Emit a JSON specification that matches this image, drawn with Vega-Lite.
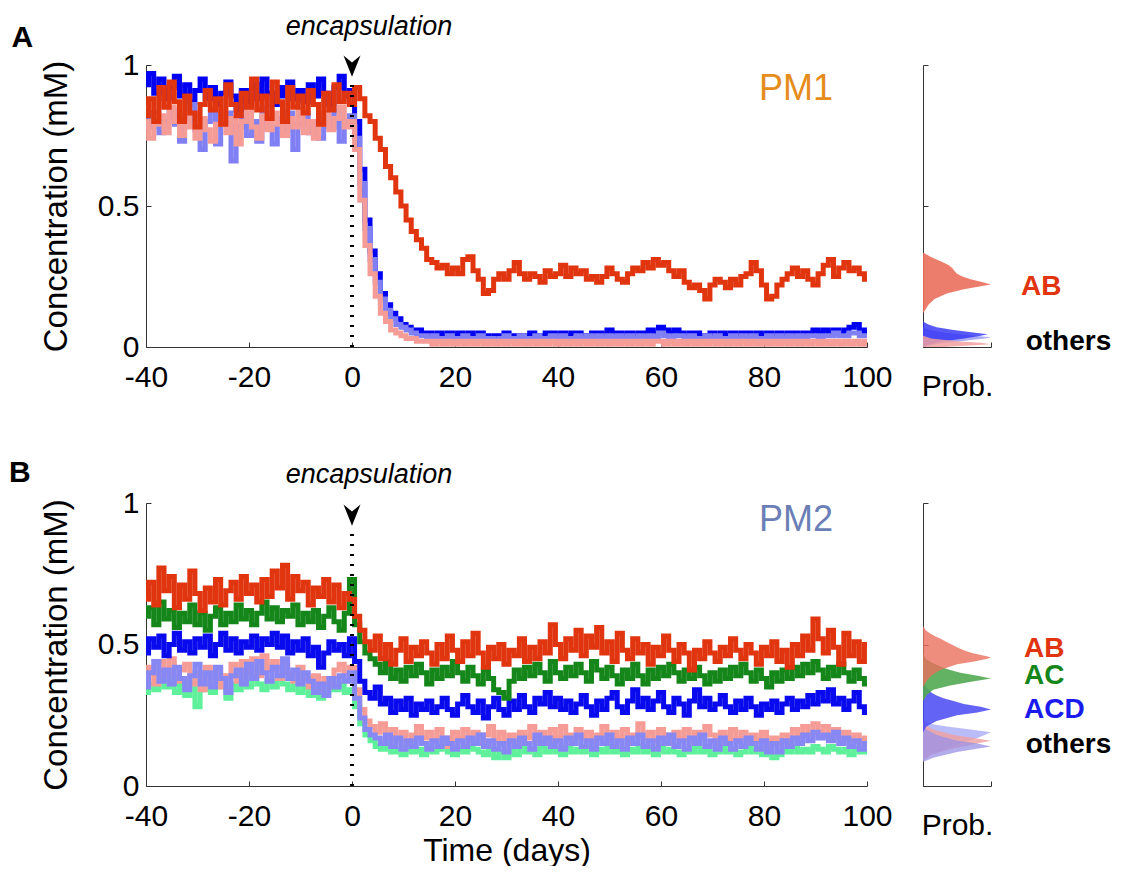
{
  "$schema": "https://vega.github.io/schema/vega-lite/v6.json",
  "padding": {"left": 8, "top": 12, "right": 5, "bottom": 0},
  "background": "white",
  "config": {
    "view": {"stroke": null},
    "font": "Liberation Sans",
    "axis": {"labelFont": "Liberation Sans", "labelFontSize": 30, "labelColor": "#000", "titleFont": "Liberation Sans", "titleFontSize": 32, "titleFontWeight": "normal", "titleColor": "#000", "domainColor": "#333", "tickColor": "#333", "grid": false, "tickSize": -5, "labelPadding": 12, "labelFlush": false, "labelOverlap": false},
    "axisX": {"labelPadding": 20}
  },
  "datasets": {
    "A": [
      {"t":-40,"AB":0.82,"b":0.93,"lb":0.85,"pk":0.80},{"t":-39,"AB":0.88,"b":0.97,"lb":0.78,"pk":0.74},{"t":-38,"AB":0.80,"b":0.90,"lb":0.83,"pk":0.79},{"t":-37,"AB":0.92,"b":0.95,"lb":0.76,"pk":0.82},{"t":-36,"AB":0.85,"b":0.88,"lb":0.80,"pk":0.76},{"t":-35,"AB":0.94,"b":0.92,"lb":0.84,"pk":0.85},{"t":-34,"AB":0.87,"b":0.96,"lb":0.79,"pk":0.80},{"t":-33,"AB":0.80,"b":0.89,"lb":0.73,"pk":0.75},{"t":-32,"AB":0.89,"b":0.93,"lb":0.81,"pk":0.83},{"t":-31,"AB":0.83,"b":0.87,"lb":0.86,"pk":0.78},
      {"t":-30,"AB":0.78,"b":0.91,"lb":0.77,"pk":0.74},{"t":-29,"AB":0.86,"b":0.95,"lb":0.70,"pk":0.81},{"t":-28,"AB":0.91,"b":0.88,"lb":0.80,"pk":0.77},{"t":-27,"AB":0.84,"b":0.92,"lb":0.84,"pk":0.73},{"t":-26,"AB":0.88,"b":0.86,"lb":0.72,"pk":0.79},{"t":-25,"AB":0.79,"b":0.90,"lb":0.79,"pk":0.84},{"t":-24,"AB":0.93,"b":0.94,"lb":0.83,"pk":0.76},{"t":-23,"AB":0.86,"b":0.89,"lb":0.66,"pk":0.81},{"t":-22,"AB":0.82,"b":0.84,"lb":0.78,"pk":0.72},{"t":-21,"AB":0.90,"b":0.91,"lb":0.82,"pk":0.80},
      {"t":-20,"AB":0.85,"b":0.87,"lb":0.75,"pk":0.85},{"t":-19,"AB":0.95,"b":0.93,"lb":0.80,"pk":0.78},{"t":-18,"AB":0.84,"b":0.88,"lb":0.73,"pk":0.74},{"t":-17,"AB":0.89,"b":0.95,"lb":0.85,"pk":0.82},{"t":-16,"AB":0.81,"b":0.90,"lb":0.78,"pk":0.77},{"t":-15,"AB":0.94,"b":0.86,"lb":0.72,"pk":0.83},{"t":-14,"AB":0.87,"b":0.92,"lb":0.81,"pk":0.79},{"t":-13,"AB":0.80,"b":0.89,"lb":0.77,"pk":0.75},{"t":-12,"AB":0.92,"b":0.94,"lb":0.83,"pk":0.81},{"t":-11,"AB":0.85,"b":0.88,"lb":0.70,"pk":0.78},
      {"t":-10,"AB":0.89,"b":0.91,"lb":0.79,"pk":0.84},{"t":-9,"AB":0.83,"b":0.87,"lb":0.82,"pk":0.76},{"t":-8,"AB":0.91,"b":0.93,"lb":0.76,"pk":0.80},{"t":-7,"AB":0.86,"b":0.89,"lb":0.80,"pk":0.74},{"t":-6,"AB":0.79,"b":0.95,"lb":0.74,"pk":0.79},{"t":-5,"AB":0.90,"b":0.90,"lb":0.82,"pk":0.83},{"t":-4,"AB":0.84,"b":0.86,"lb":0.78,"pk":0.77},{"t":-3,"AB":0.93,"b":0.92,"lb":0.84,"pk":0.81},{"t":-2,"AB":0.87,"b":0.96,"lb":0.73,"pk":0.85},{"t":-1,"AB":0.90,"b":0.89,"lb":0.80,"pk":0.78},
      {"t":0,"AB":0.86,"b":0.91,"lb":0.82,"pk":0.80},{"t":1,"AB":0.92,"b":0.80,"lb":0.74,"pk":0.70},{"t":2,"AB":0.88,"b":0.63,"lb":0.58,"pk":0.52},{"t":3,"AB":0.82,"b":0.45,"lb":0.42,"pk":0.36},{"t":4,"AB":0.80,"b":0.34,"lb":0.31,"pk":0.26},{"t":5,"AB":0.74,"b":0.26,"lb":0.23,"pk":0.18},{"t":6,"AB":0.70,"b":0.19,"lb":0.17,"pk":0.12},{"t":7,"AB":0.64,"b":0.15,"lb":0.13,"pk":0.09},{"t":8,"AB":0.60,"b":0.12,"lb":0.10,"pk":0.06},{"t":9,"AB":0.55,"b":0.10,"lb":0.08,"pk":0.05},
      {"t":10,"AB":0.50,"b":0.08,"lb":0.07,"pk":0.04},{"t":11,"AB":0.45,"b":0.07,"lb":0.06,"pk":0.03},{"t":12,"AB":0.41,"b":0.06,"lb":0.05,"pk":0.03},{"t":13,"AB":0.38,"b":0.06,"lb":0.04,"pk":0.02},{"t":14,"AB":0.35,"b":0.05,"lb":0.04,"pk":0.02},{"t":15,"AB":0.31,"b":0.05,"lb":0.03,"pk":0.02},{"t":16,"AB":0.30,"b":0.04,"lb":0.04,"pk":0.01},{"t":17,"AB":0.28,"b":0.05,"lb":0.03,"pk":0.02},{"t":18,"AB":0.29,"b":0.04,"lb":0.03,"pk":0.01},{"t":19,"AB":0.26,"b":0.05,"lb":0.04,"pk":0.02},
      {"t":20,"AB":0.28,"b":0.04,"lb":0.03,"pk":0.01},{"t":21,"AB":0.26,"b":0.05,"lb":0.03,"pk":0.02},{"t":22,"AB":0.31,"b":0.04,"lb":0.04,"pk":0.01},{"t":23,"AB":0.32,"b":0.05,"lb":0.03,"pk":0.02},{"t":24,"AB":0.27,"b":0.04,"lb":0.03,"pk":0.01},{"t":25,"AB":0.24,"b":0.05,"lb":0.04,"pk":0.02},{"t":26,"AB":0.19,"b":0.04,"lb":0.03,"pk":0.01},{"t":27,"AB":0.20,"b":0.03,"lb":0.03,"pk":0.02},{"t":28,"AB":0.24,"b":0.04,"lb":0.02,"pk":0.01},{"t":29,"AB":0.26,"b":0.04,"lb":0.03,"pk":0.02},
      {"t":30,"AB":0.24,"b":0.05,"lb":0.04,"pk":0.01},{"t":31,"AB":0.27,"b":0.04,"lb":0.03,"pk":0.02},{"t":32,"AB":0.30,"b":0.03,"lb":0.03,"pk":0.01},{"t":33,"AB":0.26,"b":0.04,"lb":0.04,"pk":0.02},{"t":34,"AB":0.24,"b":0.04,"lb":0.03,"pk":0.01},{"t":35,"AB":0.26,"b":0.05,"lb":0.03,"pk":0.02},{"t":36,"AB":0.25,"b":0.04,"lb":0.04,"pk":0.01},{"t":37,"AB":0.23,"b":0.04,"lb":0.03,"pk":0.02},{"t":38,"AB":0.27,"b":0.05,"lb":0.03,"pk":0.01},{"t":39,"AB":0.25,"b":0.05,"lb":0.04,"pk":0.02},
      {"t":40,"AB":0.26,"b":0.04,"lb":0.03,"pk":0.01},{"t":41,"AB":0.29,"b":0.05,"lb":0.04,"pk":0.02},{"t":42,"AB":0.25,"b":0.04,"lb":0.03,"pk":0.01},{"t":43,"AB":0.28,"b":0.05,"lb":0.03,"pk":0.02},{"t":44,"AB":0.26,"b":0.05,"lb":0.04,"pk":0.01},{"t":45,"AB":0.27,"b":0.04,"lb":0.03,"pk":0.02},{"t":46,"AB":0.24,"b":0.04,"lb":0.04,"pk":0.01},{"t":47,"AB":0.25,"b":0.05,"lb":0.03,"pk":0.02},{"t":48,"AB":0.23,"b":0.05,"lb":0.04,"pk":0.01},{"t":49,"AB":0.25,"b":0.04,"lb":0.03,"pk":0.02},
      {"t":50,"AB":0.28,"b":0.06,"lb":0.04,"pk":0.01},{"t":51,"AB":0.26,"b":0.05,"lb":0.03,"pk":0.02},{"t":52,"AB":0.24,"b":0.05,"lb":0.04,"pk":0.01},{"t":53,"AB":0.23,"b":0.04,"lb":0.03,"pk":0.02},{"t":54,"AB":0.26,"b":0.05,"lb":0.04,"pk":0.01},{"t":55,"AB":0.28,"b":0.04,"lb":0.03,"pk":0.02},{"t":56,"AB":0.27,"b":0.05,"lb":0.04,"pk":0.01},{"t":57,"AB":0.30,"b":0.05,"lb":0.03,"pk":0.02},{"t":58,"AB":0.28,"b":0.06,"lb":0.04,"pk":0.01},{"t":59,"AB":0.31,"b":0.05,"lb":0.03,"pk":0.02},
      {"t":60,"AB":0.29,"b":0.07,"lb":0.05,"pk":0.02},{"t":61,"AB":0.30,"b":0.06,"lb":0.04,"pk":0.01},{"t":62,"AB":0.27,"b":0.05,"lb":0.03,"pk":0.02},{"t":63,"AB":0.25,"b":0.06,"lb":0.04,"pk":0.01},{"t":64,"AB":0.27,"b":0.05,"lb":0.04,"pk":0.02},{"t":65,"AB":0.23,"b":0.04,"lb":0.03,"pk":0.01},{"t":66,"AB":0.21,"b":0.05,"lb":0.04,"pk":0.02},{"t":67,"AB":0.22,"b":0.05,"lb":0.03,"pk":0.01},{"t":68,"AB":0.20,"b":0.04,"lb":0.03,"pk":0.02},{"t":69,"AB":0.17,"b":0.04,"lb":0.04,"pk":0.01},
      {"t":70,"AB":0.22,"b":0.05,"lb":0.03,"pk":0.02},{"t":71,"AB":0.24,"b":0.04,"lb":0.04,"pk":0.01},{"t":72,"AB":0.23,"b":0.05,"lb":0.03,"pk":0.02},{"t":73,"AB":0.21,"b":0.04,"lb":0.03,"pk":0.01},{"t":74,"AB":0.24,"b":0.05,"lb":0.04,"pk":0.02},{"t":75,"AB":0.22,"b":0.04,"lb":0.03,"pk":0.01},{"t":76,"AB":0.25,"b":0.05,"lb":0.04,"pk":0.02},{"t":77,"AB":0.26,"b":0.05,"lb":0.03,"pk":0.01},{"t":78,"AB":0.30,"b":0.04,"lb":0.04,"pk":0.02},{"t":79,"AB":0.27,"b":0.05,"lb":0.03,"pk":0.01},
      {"t":80,"AB":0.22,"b":0.04,"lb":0.03,"pk":0.02},{"t":81,"AB":0.17,"b":0.05,"lb":0.04,"pk":0.01},{"t":82,"AB":0.18,"b":0.04,"lb":0.03,"pk":0.02},{"t":83,"AB":0.22,"b":0.05,"lb":0.04,"pk":0.01},{"t":84,"AB":0.24,"b":0.04,"lb":0.03,"pk":0.02},{"t":85,"AB":0.26,"b":0.05,"lb":0.04,"pk":0.01},{"t":86,"AB":0.28,"b":0.05,"lb":0.03,"pk":0.02},{"t":87,"AB":0.25,"b":0.04,"lb":0.04,"pk":0.01},{"t":88,"AB":0.27,"b":0.05,"lb":0.03,"pk":0.02},{"t":89,"AB":0.24,"b":0.05,"lb":0.04,"pk":0.01},
      {"t":90,"AB":0.22,"b":0.06,"lb":0.04,"pk":0.02},{"t":91,"AB":0.26,"b":0.05,"lb":0.03,"pk":0.01},{"t":92,"AB":0.29,"b":0.06,"lb":0.04,"pk":0.02},{"t":93,"AB":0.31,"b":0.05,"lb":0.04,"pk":0.01},{"t":94,"AB":0.25,"b":0.06,"lb":0.05,"pk":0.02},{"t":95,"AB":0.28,"b":0.05,"lb":0.04,"pk":0.01},{"t":96,"AB":0.30,"b":0.06,"lb":0.04,"pk":0.02},{"t":97,"AB":0.27,"b":0.07,"lb":0.05,"pk":0.01},{"t":98,"AB":0.28,"b":0.08,"lb":0.05,"pk":0.02},{"t":99,"AB":0.26,"b":0.06,"lb":0.04,"pk":0.01},
      {"t":100,"AB":0.24,"b":0.05,"lb":0.04,"pk":0.02}
    ],
    "B": [
      {"t":-40,"AB":0.66,"AC":0.60,"ACD":0.47,"pk":0.38,"lv":0.35,"lg":0.33},{"t":-39,"AB":0.72,"AC":0.63,"ACD":0.52,"pk":0.42,"lv":0.40,"lg":0.36},{"t":-38,"AB":0.64,"AC":0.57,"ACD":0.49,"pk":0.36,"lv":0.44,"lg":0.34},{"t":-37,"AB":0.77,"AC":0.65,"ACD":0.53,"pk":0.44,"lv":0.37,"lg":0.37},{"t":-36,"AB":0.69,"AC":0.59,"ACD":0.46,"pk":0.39,"lv":0.41,"lg":0.35},{"t":-35,"AB":0.74,"AC":0.62,"ACD":0.50,"pk":0.45,"lv":0.36,"lg":0.38},{"t":-34,"AB":0.63,"AC":0.56,"ACD":0.54,"pk":0.37,"lv":0.42,"lg":0.33},{"t":-33,"AB":0.71,"AC":0.61,"ACD":0.48,"pk":0.41,"lv":0.38,"lg":0.36},{"t":-32,"AB":0.66,"AC":0.58,"ACD":0.51,"pk":0.43,"lv":0.34,"lg":0.32},{"t":-31,"AB":0.76,"AC":0.64,"ACD":0.47,"pk":0.36,"lv":0.39,"lg":0.37},
      {"t":-30,"AB":0.68,"AC":0.57,"ACD":0.52,"pk":0.40,"lv":0.43,"lg":0.28},{"t":-29,"AB":0.62,"AC":0.61,"ACD":0.49,"pk":0.34,"lv":0.36,"lg":0.34},{"t":-28,"AB":0.70,"AC":0.55,"ACD":0.53,"pk":0.42,"lv":0.40,"lg":0.36},{"t":-27,"AB":0.65,"AC":0.60,"ACD":0.46,"pk":0.38,"lv":0.35,"lg":0.33},{"t":-26,"AB":0.73,"AC":0.63,"ACD":0.50,"pk":0.41,"lv":0.42,"lg":0.37},{"t":-25,"AB":0.64,"AC":0.57,"ACD":0.54,"pk":0.35,"lv":0.38,"lg":0.35},{"t":-24,"AB":0.69,"AC":0.61,"ACD":0.48,"pk":0.39,"lv":0.33,"lg":0.31},{"t":-23,"AB":0.72,"AC":0.58,"ACD":0.52,"pk":0.43,"lv":0.39,"lg":0.36},{"t":-22,"AB":0.66,"AC":0.64,"ACD":0.47,"pk":0.37,"lv":0.41,"lg":0.34},{"t":-21,"AB":0.74,"AC":0.59,"ACD":0.51,"pk":0.44,"lv":0.36,"lg":0.37},
      {"t":-20,"AB":0.68,"AC":0.62,"ACD":0.49,"pk":0.40,"lv":0.43,"lg":0.35},{"t":-19,"AB":0.71,"AC":0.57,"ACD":0.53,"pk":0.45,"lv":0.38,"lg":0.38},{"t":-18,"AB":0.65,"AC":0.61,"ACD":0.48,"pk":0.39,"lv":0.44,"lg":0.36},{"t":-17,"AB":0.73,"AC":0.65,"ACD":0.52,"pk":0.46,"lv":0.40,"lg":0.34},{"t":-16,"AB":0.67,"AC":0.59,"ACD":0.50,"pk":0.41,"lv":0.37,"lg":0.37},{"t":-15,"AB":0.76,"AC":0.63,"ACD":0.54,"pk":0.44,"lv":0.42,"lg":0.35},{"t":-14,"AB":0.70,"AC":0.58,"ACD":0.49,"pk":0.38,"lv":0.39,"lg":0.38},{"t":-13,"AB":0.78,"AC":0.62,"ACD":0.53,"pk":0.43,"lv":0.45,"lg":0.36},{"t":-12,"AB":0.66,"AC":0.60,"ACD":0.47,"pk":0.40,"lv":0.38,"lg":0.34},{"t":-11,"AB":0.74,"AC":0.64,"ACD":0.51,"pk":0.37,"lv":0.41,"lg":0.36},
      {"t":-10,"AB":0.69,"AC":0.57,"ACD":0.48,"pk":0.42,"lv":0.36,"lg":0.33},{"t":-9,"AB":0.72,"AC":0.61,"ACD":0.52,"pk":0.38,"lv":0.40,"lg":0.35},{"t":-8,"AB":0.64,"AC":0.58,"ACD":0.46,"pk":0.35,"lv":0.37,"lg":0.32},{"t":-7,"AB":0.70,"AC":0.62,"ACD":0.49,"pk":0.39,"lv":0.33,"lg":0.34},{"t":-6,"AB":0.67,"AC":0.56,"ACD":0.42,"pk":0.34,"lv":0.36,"lg":0.31},{"t":-5,"AB":0.73,"AC":0.60,"ACD":0.47,"pk":0.38,"lv":0.32,"lg":0.33},{"t":-4,"AB":0.65,"AC":0.63,"ACD":0.51,"pk":0.36,"lv":0.38,"lg":0.35},{"t":-3,"AB":0.71,"AC":0.58,"ACD":0.48,"pk":0.41,"lv":0.35,"lg":0.34},{"t":-2,"AB":0.63,"AC":0.55,"ACD":0.50,"pk":0.43,"lv":0.39,"lg":0.36},{"t":-1,"AB":0.68,"AC":0.61,"ACD":0.46,"pk":0.40,"lv":0.37,"lg":0.33},
      {"t":0,"AB":0.66,"AC":0.73,"ACD":0.52,"pk":0.42,"lv":0.40,"lg":0.34},{"t":1,"AB":0.60,"AC":0.57,"ACD":0.44,"pk":0.34,"lv":0.31,"lg":0.28},{"t":2,"AB":0.55,"AC":0.51,"ACD":0.37,"pk":0.27,"lv":0.24,"lg":0.22},{"t":3,"AB":0.51,"AC":0.47,"ACD":0.33,"pk":0.23,"lv":0.20,"lg":0.18},{"t":4,"AB":0.48,"AC":0.45,"ACD":0.31,"pk":0.21,"lv":0.18,"lg":0.16},{"t":5,"AB":0.53,"AC":0.43,"ACD":0.35,"pk":0.19,"lv":0.17,"lg":0.14},{"t":6,"AB":0.45,"AC":0.40,"ACD":0.29,"pk":0.22,"lv":0.15,"lg":0.13},{"t":7,"AB":0.50,"AC":0.44,"ACD":0.31,"pk":0.17,"lv":0.18,"lg":0.15},{"t":8,"AB":0.43,"AC":0.38,"ACD":0.26,"pk":0.20,"lv":0.14,"lg":0.12},{"t":9,"AB":0.48,"AC":0.41,"ACD":0.30,"pk":0.16,"lv":0.17,"lg":0.13},
      {"t":10,"AB":0.52,"AC":0.37,"ACD":0.27,"pk":0.19,"lv":0.13,"lg":0.11},{"t":11,"AB":0.44,"AC":0.42,"ACD":0.31,"pk":0.15,"lv":0.16,"lg":0.14},{"t":12,"AB":0.49,"AC":0.39,"ACD":0.25,"pk":0.18,"lv":0.14,"lg":0.12},{"t":13,"AB":0.46,"AC":0.43,"ACD":0.29,"pk":0.21,"lv":0.17,"lg":0.13},{"t":14,"AB":0.51,"AC":0.40,"ACD":0.27,"pk":0.17,"lv":0.15,"lg":0.11},{"t":15,"AB":0.47,"AC":0.36,"ACD":0.30,"pk":0.19,"lv":0.13,"lg":0.14},{"t":16,"AB":0.43,"AC":0.41,"ACD":0.26,"pk":0.16,"lv":0.16,"lg":0.12},{"t":17,"AB":0.50,"AC":0.38,"ACD":0.28,"pk":0.20,"lv":0.14,"lg":0.13},{"t":18,"AB":0.45,"AC":0.42,"ACD":0.31,"pk":0.17,"lv":0.17,"lg":0.15},{"t":19,"AB":0.53,"AC":0.39,"ACD":0.27,"pk":0.14,"lv":0.15,"lg":0.12},
      {"t":20,"AB":0.48,"AC":0.44,"ACD":0.25,"pk":0.19,"lv":0.13,"lg":0.11},{"t":21,"AB":0.44,"AC":0.40,"ACD":0.29,"pk":0.17,"lv":0.16,"lg":0.13},{"t":22,"AB":0.51,"AC":0.37,"ACD":0.32,"pk":0.20,"lv":0.14,"lg":0.12},{"t":23,"AB":0.46,"AC":0.42,"ACD":0.28,"pk":0.16,"lv":0.17,"lg":0.14},{"t":24,"AB":0.54,"AC":0.39,"ACD":0.26,"pk":0.19,"lv":0.15,"lg":0.13},{"t":25,"AB":0.47,"AC":0.36,"ACD":0.30,"pk":0.15,"lv":0.18,"lg":0.12},{"t":26,"AB":0.42,"AC":0.41,"ACD":0.24,"pk":0.18,"lv":0.14,"lg":0.11},{"t":27,"AB":0.49,"AC":0.38,"ACD":0.28,"pk":0.21,"lv":0.16,"lg":0.13},{"t":28,"AB":0.45,"AC":0.34,"ACD":0.31,"pk":0.16,"lv":0.13,"lg":0.10},{"t":29,"AB":0.50,"AC":0.33,"ACD":0.27,"pk":0.19,"lv":0.15,"lg":0.12},
      {"t":30,"AB":0.43,"AC":0.31,"ACD":0.25,"pk":0.15,"lv":0.12,"lg":0.10},{"t":31,"AB":0.48,"AC":0.37,"ACD":0.30,"pk":0.18,"lv":0.16,"lg":0.13},{"t":32,"AB":0.46,"AC":0.41,"ACD":0.27,"pk":0.14,"lv":0.14,"lg":0.11},{"t":33,"AB":0.52,"AC":0.38,"ACD":0.32,"pk":0.19,"lv":0.17,"lg":0.14},{"t":34,"AB":0.44,"AC":0.42,"ACD":0.28,"pk":0.17,"lv":0.15,"lg":0.12},{"t":35,"AB":0.49,"AC":0.39,"ACD":0.26,"pk":0.21,"lv":0.13,"lg":0.13},{"t":36,"AB":0.45,"AC":0.43,"ACD":0.31,"pk":0.16,"lv":0.18,"lg":0.11},{"t":37,"AB":0.51,"AC":0.40,"ACD":0.29,"pk":0.19,"lv":0.15,"lg":0.14},{"t":38,"AB":0.47,"AC":0.37,"ACD":0.33,"pk":0.15,"lv":0.17,"lg":0.12},{"t":39,"AB":0.57,"AC":0.44,"ACD":0.28,"pk":0.20,"lv":0.14,"lg":0.13},
      {"t":40,"AB":0.50,"AC":0.40,"ACD":0.31,"pk":0.17,"lv":0.16,"lg":0.12},{"t":41,"AB":0.45,"AC":0.38,"ACD":0.27,"pk":0.21,"lv":0.13,"lg":0.11},{"t":42,"AB":0.52,"AC":0.42,"ACD":0.30,"pk":0.18,"lv":0.17,"lg":0.14},{"t":43,"AB":0.48,"AC":0.39,"ACD":0.26,"pk":0.16,"lv":0.15,"lg":0.12},{"t":44,"AB":0.55,"AC":0.43,"ACD":0.29,"pk":0.20,"lv":0.18,"lg":0.13},{"t":45,"AB":0.46,"AC":0.40,"ACD":0.32,"pk":0.17,"lv":0.14,"lg":0.12},{"t":46,"AB":0.53,"AC":0.37,"ACD":0.28,"pk":0.19,"lv":0.16,"lg":0.14},{"t":47,"AB":0.49,"AC":0.44,"ACD":0.25,"pk":0.15,"lv":0.13,"lg":0.11},{"t":48,"AB":0.56,"AC":0.41,"ACD":0.30,"pk":0.18,"lv":0.17,"lg":0.13},{"t":49,"AB":0.47,"AC":0.38,"ACD":0.27,"pk":0.21,"lv":0.15,"lg":0.12},
      {"t":50,"AB":0.51,"AC":0.42,"ACD":0.31,"pk":0.16,"lv":0.18,"lg":0.14},{"t":51,"AB":0.44,"AC":0.39,"ACD":0.33,"pk":0.19,"lv":0.14,"lg":0.12},{"t":52,"AB":0.54,"AC":0.36,"ACD":0.28,"pk":0.17,"lv":0.16,"lg":0.13},{"t":53,"AB":0.48,"AC":0.41,"ACD":0.26,"pk":0.20,"lv":0.13,"lg":0.11},{"t":54,"AB":0.45,"AC":0.38,"ACD":0.30,"pk":0.15,"lv":0.17,"lg":0.13},{"t":55,"AB":0.52,"AC":0.43,"ACD":0.34,"pk":0.18,"lv":0.15,"lg":0.12},{"t":56,"AB":0.47,"AC":0.39,"ACD":0.28,"pk":0.22,"lv":0.18,"lg":0.14},{"t":57,"AB":0.50,"AC":0.36,"ACD":0.31,"pk":0.17,"lv":0.14,"lg":0.12},{"t":58,"AB":0.43,"AC":0.41,"ACD":0.27,"pk":0.19,"lv":0.16,"lg":0.13},{"t":59,"AB":0.49,"AC":0.38,"ACD":0.30,"pk":0.16,"lv":0.13,"lg":0.11},
      {"t":60,"AB":0.46,"AC":0.42,"ACD":0.33,"pk":0.20,"lv":0.17,"lg":0.14},{"t":61,"AB":0.53,"AC":0.39,"ACD":0.28,"pk":0.18,"lv":0.15,"lg":0.12},{"t":62,"AB":0.48,"AC":0.43,"ACD":0.26,"pk":0.15,"lv":0.18,"lg":0.13},{"t":63,"AB":0.44,"AC":0.40,"ACD":0.31,"pk":0.19,"lv":0.14,"lg":0.12},{"t":64,"AB":0.50,"AC":0.37,"ACD":0.29,"pk":0.17,"lv":0.16,"lg":0.11},{"t":65,"AB":0.47,"AC":0.41,"ACD":0.25,"pk":0.20,"lv":0.13,"lg":0.13},{"t":66,"AB":0.41,"AC":0.38,"ACD":0.30,"pk":0.16,"lv":0.17,"lg":0.12},{"t":67,"AB":0.48,"AC":0.42,"ACD":0.34,"pk":0.19,"lv":0.15,"lg":0.14},{"t":68,"AB":0.45,"AC":0.39,"ACD":0.28,"pk":0.17,"lv":0.18,"lg":0.12},{"t":69,"AB":0.51,"AC":0.36,"ACD":0.31,"pk":0.21,"lv":0.14,"lg":0.13},
      {"t":70,"AB":0.47,"AC":0.40,"ACD":0.27,"pk":0.18,"lv":0.16,"lg":0.11},{"t":71,"AB":0.44,"AC":0.37,"ACD":0.29,"pk":0.15,"lv":0.13,"lg":0.12},{"t":72,"AB":0.49,"AC":0.41,"ACD":0.32,"pk":0.19,"lv":0.17,"lg":0.14},{"t":73,"AB":0.46,"AC":0.38,"ACD":0.28,"pk":0.16,"lv":0.15,"lg":0.12},{"t":74,"AB":0.52,"AC":0.42,"ACD":0.26,"pk":0.20,"lv":0.13,"lg":0.13},{"t":75,"AB":0.48,"AC":0.39,"ACD":0.30,"pk":0.17,"lv":0.16,"lg":0.11},{"t":76,"AB":0.45,"AC":0.43,"ACD":0.27,"pk":0.19,"lv":0.14,"lg":0.12},{"t":77,"AB":0.50,"AC":0.40,"ACD":0.31,"pk":0.15,"lv":0.17,"lg":0.14},{"t":78,"AB":0.47,"AC":0.37,"ACD":0.28,"pk":0.18,"lv":0.15,"lg":0.12},{"t":79,"AB":0.43,"AC":0.41,"ACD":0.25,"pk":0.16,"lv":0.13,"lg":0.13},
      {"t":80,"AB":0.49,"AC":0.38,"ACD":0.29,"pk":0.19,"lv":0.16,"lg":0.11},{"t":81,"AB":0.46,"AC":0.35,"ACD":0.27,"pk":0.14,"lv":0.12,"lg":0.12},{"t":82,"AB":0.51,"AC":0.40,"ACD":0.30,"pk":0.17,"lv":0.15,"lg":0.10},{"t":83,"AB":0.44,"AC":0.37,"ACD":0.26,"pk":0.15,"lv":0.12,"lg":0.11},{"t":84,"AB":0.48,"AC":0.41,"ACD":0.29,"pk":0.18,"lv":0.16,"lg":0.13},{"t":85,"AB":0.42,"AC":0.38,"ACD":0.31,"pk":0.16,"lv":0.14,"lg":0.12},{"t":86,"AB":0.50,"AC":0.42,"ACD":0.27,"pk":0.20,"lv":0.17,"lg":0.14},{"t":87,"AB":0.46,"AC":0.39,"ACD":0.30,"pk":0.17,"lv":0.15,"lg":0.12},{"t":88,"AB":0.53,"AC":0.43,"ACD":0.28,"pk":0.21,"lv":0.18,"lg":0.13},{"t":89,"AB":0.48,"AC":0.40,"ACD":0.32,"pk":0.18,"lv":0.16,"lg":0.12},
      {"t":90,"AB":0.59,"AC":0.44,"ACD":0.29,"pk":0.22,"lv":0.19,"lg":0.14},{"t":91,"AB":0.52,"AC":0.41,"ACD":0.33,"pk":0.19,"lv":0.17,"lg":0.13},{"t":92,"AB":0.47,"AC":0.38,"ACD":0.30,"pk":0.21,"lv":0.18,"lg":0.12},{"t":93,"AB":0.55,"AC":0.42,"ACD":0.34,"pk":0.18,"lv":0.16,"lg":0.14},{"t":94,"AB":0.49,"AC":0.39,"ACD":0.29,"pk":0.20,"lv":0.19,"lg":0.13},{"t":95,"AB":0.43,"AC":0.43,"ACD":0.31,"pk":0.17,"lv":0.15,"lg":0.12},{"t":96,"AB":0.54,"AC":0.40,"ACD":0.27,"pk":0.19,"lv":0.17,"lg":0.13},{"t":97,"AB":0.46,"AC":0.37,"ACD":0.30,"pk":0.16,"lv":0.14,"lg":0.11},{"t":98,"AB":0.51,"AC":0.41,"ACD":0.33,"pk":0.18,"lv":0.16,"lg":0.13},{"t":99,"AB":0.44,"AC":0.38,"ACD":0.28,"pk":0.15,"lv":0.13,"lg":0.12},
      {"t":100,"AB":0.50,"AC":0.36,"ACD":0.26,"pk":0.17,"lv":0.15,"lg":0.12}
    ],
    "dA": [
      {"s":"AB","c":0.12,"p":0},{"s":"AB","c":0.13,"p":0.03},{"s":"AB","c":0.15,"p":0.08},{"s":"AB","c":0.17,"p":0.17},{"s":"AB","c":0.19,"p":0.35},{"s":"AB","c":0.205,"p":0.6},{"s":"AB","c":0.215,"p":0.85},{"s":"AB","c":0.222,"p":1.0},{"s":"AB","c":0.23,"p":0.88},{"s":"AB","c":0.24,"p":0.7},{"s":"AB","c":0.25,"p":0.58},{"s":"AB","c":0.26,"p":0.5},{"s":"AB","c":0.27,"p":0.46},{"s":"AB","c":0.28,"p":0.43},{"s":"AB","c":0.29,"p":0.38},{"s":"AB","c":0.30,"p":0.3},{"s":"AB","c":0.31,"p":0.2},{"s":"AB","c":0.32,"p":0.11},{"s":"AB","c":0.33,"p":0.04},{"s":"AB","c":0.335,"p":0},
      {"s":"b","c":0,"p":0},{"s":"b","c":0.01,"p":0.1},{"s":"b","c":0.02,"p":0.3},{"s":"b","c":0.03,"p":0.6},{"s":"b","c":0.04,"p":0.85},{"s":"b","c":0.045,"p":0.95},{"s":"b","c":0.05,"p":0.8},{"s":"b","c":0.06,"p":0.45},{"s":"b","c":0.07,"p":0.2},{"s":"b","c":0.08,"p":0.08},{"s":"b","c":0.09,"p":0},
      {"s":"lb","c":0,"p":0},{"s":"lb","c":0.01,"p":0.2},{"s":"lb","c":0.02,"p":0.55},{"s":"lb","c":0.03,"p":0.9},{"s":"lb","c":0.035,"p":1.0},{"s":"lb","c":0.04,"p":0.75},{"s":"lb","c":0.05,"p":0.35},{"s":"lb","c":0.06,"p":0.1},{"s":"lb","c":0.07,"p":0},
      {"s":"pk","c":0,"p":0.3},{"s":"pk","c":0.005,"p":0.7},{"s":"pk","c":0.01,"p":1.0},{"s":"pk","c":0.015,"p":0.85},{"s":"pk","c":0.02,"p":0.5},{"s":"pk","c":0.03,"p":0.12},{"s":"pk","c":0.04,"p":0}
    ],
    "dB": [
      {"s":"AB","c":0.35,"p":0},{"s":"AB","c":0.37,"p":0.05},{"s":"AB","c":0.39,"p":0.12},{"s":"AB","c":0.41,"p":0.25},{"s":"AB","c":0.43,"p":0.5},{"s":"AB","c":0.44,"p":0.75},{"s":"AB","c":0.45,"p":0.95},{"s":"AB","c":0.455,"p":1.0},{"s":"AB","c":0.46,"p":0.9},{"s":"AB","c":0.47,"p":0.72},{"s":"AB","c":0.48,"p":0.6},{"s":"AB","c":0.49,"p":0.5},{"s":"AB","c":0.50,"p":0.42},{"s":"AB","c":0.51,"p":0.34},{"s":"AB","c":0.52,"p":0.26},{"s":"AB","c":0.53,"p":0.17},{"s":"AB","c":0.54,"p":0.1},{"s":"AB","c":0.55,"p":0.04},{"s":"AB","c":0.565,"p":0},
      {"s":"AC","c":0.30,"p":0},{"s":"AC","c":0.32,"p":0.05},{"s":"AC","c":0.34,"p":0.15},{"s":"AC","c":0.355,"p":0.4},{"s":"AC","c":0.37,"p":0.75},{"s":"AC","c":0.38,"p":1.0},{"s":"AC","c":0.39,"p":0.8},{"s":"AC","c":0.40,"p":0.55},{"s":"AC","c":0.41,"p":0.4},{"s":"AC","c":0.42,"p":0.28},{"s":"AC","c":0.43,"p":0.18},{"s":"AC","c":0.44,"p":0.1},{"s":"AC","c":0.45,"p":0.04},{"s":"AC","c":0.47,"p":0},
      {"s":"ACD","c":0.19,"p":0},{"s":"ACD","c":0.21,"p":0.05},{"s":"ACD","c":0.23,"p":0.2},{"s":"ACD","c":0.25,"p":0.5},{"s":"ACD","c":0.26,"p":0.8},{"s":"ACD","c":0.27,"p":1.0},{"s":"ACD","c":0.28,"p":0.85},{"s":"ACD","c":0.29,"p":0.6},{"s":"ACD","c":0.30,"p":0.45},{"s":"ACD","c":0.31,"p":0.3},{"s":"ACD","c":0.32,"p":0.2},{"s":"ACD","c":0.33,"p":0.12},{"s":"ACD","c":0.35,"p":0.05},{"s":"ACD","c":0.37,"p":0},
      {"s":"lv","c":0.09,"p":0},{"s":"lv","c":0.11,"p":0.1},{"s":"lv","c":0.13,"p":0.3},{"s":"lv","c":0.15,"p":0.55},{"s":"lv","c":0.17,"p":0.8},{"s":"lv","c":0.19,"p":1.0},{"s":"lv","c":0.20,"p":0.7},{"s":"lv","c":0.21,"p":0.35},{"s":"lv","c":0.22,"p":0.1},{"s":"lv","c":0.23,"p":0},
      {"s":"pk","c":0.09,"p":0},{"s":"pk","c":0.11,"p":0.12},{"s":"pk","c":0.13,"p":0.4},{"s":"pk","c":0.15,"p":0.8},{"s":"pk","c":0.16,"p":1.0},{"s":"pk","c":0.17,"p":0.75},{"s":"pk","c":0.18,"p":0.45},{"s":"pk","c":0.20,"p":0.15},{"s":"pk","c":0.22,"p":0},
      {"s":"lg","c":0.085,"p":0},{"s":"lg","c":0.10,"p":0.15},{"s":"lg","c":0.12,"p":0.5},{"s":"lg","c":0.14,"p":1.0},{"s":"lg","c":0.15,"p":0.8},{"s":"lg","c":0.16,"p":0.5},{"s":"lg","c":0.18,"p":0.2},{"s":"lg","c":0.20,"p":0.05},{"s":"lg","c":0.21,"p":0}
    ],
    "labA": [{"label":"AB","c":0.184}],
    "labAo": [{"label":"others","c":-0.01}],
    "labB": [{"label":"AB","c":0.456},{"label":"AC","c":0.362},{"label":"ACD","c":0.24}],
    "labBo": [{"label":"others","c":0.117}]
  },
  "vconcat": [
    {
      "bounds": "flush",
      "spacing": 56,
      "hconcat": [
        {
          "width": 721, "height": 282,
          "data": {"name": "A"},
          "layer": [
            {"mark": {"type": "line", "interpolate": "step", "color": "#0000f2", "strokeWidth": 5}, "encoding": {"x": {"field": "t", "type": "quantitative", "scale": {"domain": [-40, 100], "nice": false, "zero": false}, "axis": {"values": [-40,-20,0,20,40,60,80,100], "labelExpr": "'' + datum.value", "title": null}}, "y": {"field": "b", "type": "quantitative", "scale": {"domain": [0, 1], "nice": false}, "axis": {"values": [0, 0.5, 1], "format": "~g", "title": "Concentration (mM)", "titleFontSize": 33, "titlePadding": 24}}}},
            {"mark": {"type": "line", "interpolate": "step", "color": "#8080f4", "strokeWidth": 5}, "encoding": {"x": {"field": "t", "type": "quantitative"}, "y": {"field": "lb", "type": "quantitative"}}},
            {"mark": {"type": "line", "interpolate": "step", "color": "#f59c96", "strokeWidth": 5}, "encoding": {"x": {"field": "t", "type": "quantitative"}, "y": {"field": "pk", "type": "quantitative"}}},
            {"mark": {"type": "line", "interpolate": "step", "color": "#e0350f", "strokeWidth": 5}, "encoding": {"x": {"field": "t", "type": "quantitative"}, "y": {"field": "AB", "type": "quantitative"}}},
            {"data": {"values": [{}]}, "mark": {"type": "rule", "color": "#000", "strokeWidth": 4, "strokeDash": [2, 8]}, "encoding": {"x": {"datum": 0}, "y": {"datum": 0}, "y2": {"datum": 0.954}}},
            {"data": {"values": [{}]}, "mark": {"type": "point", "shape": "M-0.8,-1L0,1L0.8,-1L0,-0.35Z", "filled": true, "color": "#000", "opacity": 1, "size": 450}, "encoding": {"x": {"datum": 0}, "y": {"datum": 0.996}}},
            {"data": {"values": [{"label": "encapsulation"}]}, "mark": {"type": "text", "font": "Liberation Sans", "fontStyle": "italic", "fontSize": 27, "color": "#000"}, "encoding": {"x": {"datum": 3.3}, "y": {"datum": 1.135}, "text": {"field": "label"}}},
            {"data": {"values": [{"label": "PM1"}]}, "mark": {"type": "text", "font": "Liberation Sans", "fontSize": 36, "color": "#e58c1c"}, "encoding": {"x": {"datum": 86.2}, "y": {"datum": 0.915}, "text": {"field": "label"}}},
            {"data": {"values": [{"label": "A"}]}, "mark": {"type": "text", "font": "Liberation Sans", "fontSize": 30, "fontWeight": "bold", "color": "#000"}, "encoding": {"x": {"datum": -64}, "y": {"datum": 1.096}, "text": {"field": "label"}}}
          ]
        },
        {
          "width": 68, "height": 282,
          "data": {"name": "dA"},
          "layer": [
            {"transform": [{"filter": "datum.s === 'AB'"}], "mark": {"type": "area", "orient": "horizontal", "color": "#ea6f5c", "opacity": 0.9}, "encoding": {"x": {"field": "p", "type": "quantitative", "stack": null, "scale": {"domain": [0, 1], "nice": false}, "axis": {"values": [0, 0.5, 1], "labels": false, "title": "Prob.", "titleFontSize": 30, "titlePadding": 24}}, "y": {"field": "c", "type": "quantitative", "scale": {"domain": [0, 1], "nice": false}, "axis": {"values": [0, 0.5, 1], "labels": false, "title": null}}}},
            {"transform": [{"filter": "datum.s === 'lb'"}], "mark": {"type": "area", "orient": "horizontal", "color": "#a0a0f6", "opacity": 0.9}, "encoding": {"x": {"field": "p", "type": "quantitative", "stack": null}, "y": {"field": "c", "type": "quantitative"}}},
            {"transform": [{"filter": "datum.s === 'b'"}], "mark": {"type": "area", "orient": "horizontal", "color": "#3030f2", "opacity": 0.8}, "encoding": {"x": {"field": "p", "type": "quantitative", "stack": null}, "y": {"field": "c", "type": "quantitative"}}},
            {"transform": [{"filter": "datum.s === 'pk'"}], "mark": {"type": "area", "orient": "horizontal", "color": "#f2a0a0", "opacity": 0.85}, "encoding": {"x": {"field": "p", "type": "quantitative", "stack": null}, "y": {"field": "c", "type": "quantitative"}}},
            {"data": {"name": "labA"}, "mark": {"type": "text", "align": "left", "baseline": "alphabetic", "font": "Liberation Sans", "fontSize": 28, "fontWeight": "bold", "color": "#e0350f"}, "encoding": {"x": {"datum": 1.44}, "y": {"field": "c", "type": "quantitative"}, "text": {"field": "label"}}},
            {"data": {"name": "labAo"}, "mark": {"type": "text", "align": "left", "baseline": "alphabetic", "font": "Liberation Sans", "fontSize": 28, "fontWeight": "bold", "color": "#000"}, "encoding": {"x": {"datum": 1.51}, "y": {"field": "c", "type": "quantitative"}, "text": {"field": "label"}}}
          ]
        }
      ]
    },
    {
      "bounds": "flush",
      "spacing": 56,
      "hconcat": [
        {
          "width": 721, "height": 283,
          "data": {"name": "B"},
          "layer": [
            {"mark": {"type": "line", "interpolate": "step", "color": "#5ef09a", "strokeWidth": 5}, "encoding": {"x": {"field": "t", "type": "quantitative", "scale": {"domain": [-40, 100], "nice": false, "zero": false}, "axis": {"values": [-40,-20,0,20,40,60,80,100], "labelExpr": "'' + datum.value", "title": "Time (days)", "titlePadding": 4}}, "y": {"field": "lg", "type": "quantitative", "scale": {"domain": [0, 1], "nice": false}, "axis": {"values": [0, 0.5, 1], "format": "~g", "title": "Concentration (mM)", "titleFontSize": 33, "titlePadding": 24}}}},
            {"mark": {"type": "line", "interpolate": "step", "color": "#f59c96", "strokeWidth": 5}, "encoding": {"x": {"field": "t", "type": "quantitative"}, "y": {"field": "pk", "type": "quantitative"}}},
            {"mark": {"type": "line", "interpolate": "step", "color": "#8888f4", "strokeWidth": 5}, "encoding": {"x": {"field": "t", "type": "quantitative"}, "y": {"field": "lv", "type": "quantitative"}}},
            {"mark": {"type": "line", "interpolate": "step", "color": "#0a0aee", "strokeWidth": 5}, "encoding": {"x": {"field": "t", "type": "quantitative"}, "y": {"field": "ACD", "type": "quantitative"}}},
            {"mark": {"type": "line", "interpolate": "step", "color": "#15861a", "strokeWidth": 5}, "encoding": {"x": {"field": "t", "type": "quantitative"}, "y": {"field": "AC", "type": "quantitative"}}},
            {"mark": {"type": "line", "interpolate": "step", "color": "#e0350f", "strokeWidth": 5}, "encoding": {"x": {"field": "t", "type": "quantitative"}, "y": {"field": "AB", "type": "quantitative"}}},
            {"data": {"values": [{}]}, "mark": {"type": "rule", "color": "#000", "strokeWidth": 4, "strokeDash": [2, 8]}, "encoding": {"x": {"datum": 0}, "y": {"datum": 0}, "y2": {"datum": 0.912}}},
            {"data": {"values": [{}]}, "mark": {"type": "point", "shape": "M-0.8,-1L0,1L0.8,-1L0,-0.35Z", "filled": true, "color": "#000", "opacity": 1, "size": 450}, "encoding": {"x": {"datum": 0}, "y": {"datum": 0.957}}},
            {"data": {"values": [{"label": "encapsulation"}]}, "mark": {"type": "text", "font": "Liberation Sans", "fontStyle": "italic", "fontSize": 27, "color": "#000"}, "encoding": {"x": {"datum": 3.3}, "y": {"datum": 1.099}, "text": {"field": "label"}}},
            {"data": {"values": [{"label": "PM2"}]}, "mark": {"type": "text", "font": "Liberation Sans", "fontSize": 36, "color": "#6b7fb6"}, "encoding": {"x": {"datum": 86.2}, "y": {"datum": 0.94}, "text": {"field": "label"}}},
            {"data": {"values": [{"label": "B"}]}, "mark": {"type": "text", "font": "Liberation Sans", "fontSize": 30, "fontWeight": "bold", "color": "#000"}, "encoding": {"x": {"datum": -64.5}, "y": {"datum": 1.106}, "text": {"field": "label"}}}
          ]
        },
        {
          "width": 68, "height": 283,
          "data": {"name": "dB"},
          "layer": [
            {"transform": [{"filter": "datum.s === 'lv'"}], "mark": {"type": "area", "orient": "horizontal", "color": "#aeb0f8", "opacity": 0.85}, "encoding": {"x": {"field": "p", "type": "quantitative", "stack": null, "scale": {"domain": [0, 1], "nice": false}, "axis": {"values": [0, 0.5, 1], "labels": false, "title": "Prob.", "titleFontSize": 30, "titlePadding": 24}}, "y": {"field": "c", "type": "quantitative", "scale": {"domain": [0, 1], "nice": false}, "axis": {"values": [0, 0.5, 1], "labels": false, "title": null}}}},
            {"transform": [{"filter": "datum.s === 'pk'"}], "mark": {"type": "area", "orient": "horizontal", "color": "#f0a0a0", "opacity": 0.8}, "encoding": {"x": {"field": "p", "type": "quantitative", "stack": null}, "y": {"field": "c", "type": "quantitative"}}},
            {"transform": [{"filter": "datum.s === 'lg'"}], "mark": {"type": "area", "orient": "horizontal", "color": "#9a90e6", "opacity": 0.75}, "encoding": {"x": {"field": "p", "type": "quantitative", "stack": null}, "y": {"field": "c", "type": "quantitative"}}},
            {"transform": [{"filter": "datum.s === 'ACD'"}], "mark": {"type": "area", "orient": "horizontal", "color": "#4848f4", "opacity": 0.85}, "encoding": {"x": {"field": "p", "type": "quantitative", "stack": null}, "y": {"field": "c", "type": "quantitative"}}},
            {"transform": [{"filter": "datum.s === 'AC'"}], "mark": {"type": "area", "orient": "horizontal", "color": "#52a852", "opacity": 0.9}, "encoding": {"x": {"field": "p", "type": "quantitative", "stack": null}, "y": {"field": "c", "type": "quantitative"}}},
            {"transform": [{"filter": "datum.s === 'AB'"}], "mark": {"type": "area", "orient": "horizontal", "color": "#ea6f5c", "opacity": 0.8}, "encoding": {"x": {"field": "p", "type": "quantitative", "stack": null}, "y": {"field": "c", "type": "quantitative"}}},
            {"data": {"name": "labB"}, "mark": {"type": "text", "align": "left", "baseline": "alphabetic", "font": "Liberation Sans", "fontSize": 28, "fontWeight": "bold"}, "encoding": {"x": {"datum": 1.485}, "y": {"field": "c", "type": "quantitative"}, "text": {"field": "label"}, "color": {"field": "label", "type": "nominal", "scale": {"domain": ["AB", "AC", "ACD"], "range": ["#e0350f", "#15861a", "#1a1aee"]}, "legend": null}}},
            {"data": {"name": "labBo"}, "mark": {"type": "text", "align": "left", "baseline": "alphabetic", "font": "Liberation Sans", "fontSize": 28, "fontWeight": "bold", "color": "#000"}, "encoding": {"x": {"datum": 1.51}, "y": {"field": "c", "type": "quantitative"}, "text": {"field": "label"}}}
          ]
        }
      ]
    }
  ],
  "spacing": 56
}
